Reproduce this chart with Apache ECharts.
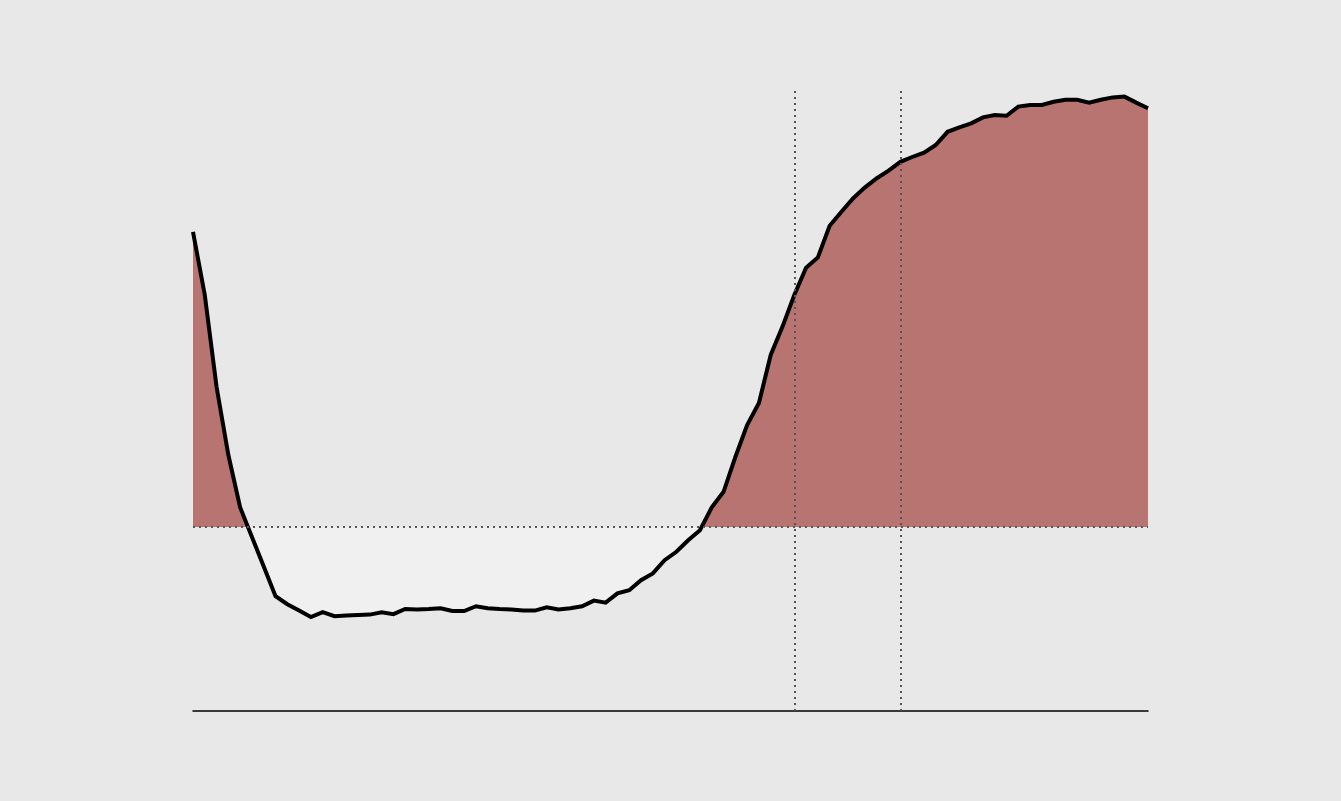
<!DOCTYPE html>
<html>
<head>
<meta charset="utf-8">
<script src="https://cdn.jsdelivr.net/npm/echarts@6/dist/echarts.min.js"></script>
<style>
  html, body { margin: 0; padding: 0; background: #e8e8e8; }
  #chart { width: 1341px; height: 801px; }
</style>
</head>
<body>
<div id="chart"></div>
<script>
// periods along the x axis (labels are not drawn in the chart)
var periods = []
for (var k = 1; k <= 82; k++) periods.push(String(k))

// values
var values = [
  73.8, 58, 35, 18, 4.9, -2.5, -9.9, -17.3, -19.3, -20.9,
  -22.5, -21.3, -22.3, -22.1, -22, -21.9, -21.3, -21.8, -20.5, -20.6,
  -20.5, -20.3, -21, -21, -19.8, -20.3, -20.5, -20.6, -20.9, -20.9,
  -20.1, -20.6, -20.3, -19.8, -18.4, -18.9, -16.6, -15.8, -13.3, -11.6,
  -8.3, -6.2, -3.3, -0.8, 4.9, 8.8, 17.5, 25.5, 31, 43,
  50.1, 58, 64.8, 67.4, 75.3, 78.8, 82.2, 84.9, 87.2, 89.1,
  91.3, 92.5, 93.6, 95.5, 98.8, 99.9, 100.9, 102.4, 103, 102.8,
  105.1, 105.5, 105.5, 106.3, 106.8, 106.8, 106.1, 106.8, 107.4, 107.6,
  106.1, 104.7
]

// marked periods (vertical dotted lines)
var markedPeriods = ['52', '61']

var yMin = -46
var yMax = 109.25

var gridTop = 90
var gridBottom = 90
var chartHeight = 801

var chart = echarts.init(document.getElementById('chart'))

var dotted = { color: '#555', width: 2, type: [2, 4] }

// fill above zero is red, below zero light grey: sharp stop at the zero level
var zeroAt = yMax / (yMax - yMin)
var areaFill = {
  type: 'linear',
  x: 0, y: gridTop, x2: 0, y2: chartHeight - gridBottom,
  global: true,
  colorStops: [
    { offset: 0, color: '#b87470' },
    { offset: zeroAt, color: '#b87470' },
    { offset: zeroAt, color: '#f0f0f0' },
    { offset: 1, color: '#f0f0f0' }
  ]
}

var option = {
  backgroundColor: '#e8e8e8',
  animation: false,
  grid: { left: 193, right: 193, top: gridTop, bottom: gridBottom },
  xAxis: {
    type: 'category',
    data: periods,
    boundaryGap: false,
    axisLine: { show: true, onZero: false, lineStyle: { color: '#000', width: 1.5 } },
    axisTick: { show: false },
    axisLabel: { show: false },
    splitLine: { show: false }
  },
  yAxis: {
    type: 'value',
    min: yMin,
    max: yMax,
    show: false,
    splitLine: { show: false }
  },
  series: [
    {
      type: 'line',
      data: values,
      showSymbol: false,
      z: 1,
      lineStyle: { width: 0, opacity: 0 },
      areaStyle: { color: areaFill, opacity: 1 },
      markLine: {
        silent: true,
        symbol: ['none', 'none'],
        label: { show: false },
        lineStyle: dotted,
        data: [
          { yAxis: 0 },
          { xAxis: markedPeriods[0] },
          { xAxis: markedPeriods[1] }
        ]
      }
    },
    {
      type: 'line',
      data: values,
      showSymbol: false,
      z: 3,
      lineStyle: { color: '#000', width: 4, join: 'miter' }
    }
  ]
}

chart.setOption(option)
</script>
</body>
</html>
